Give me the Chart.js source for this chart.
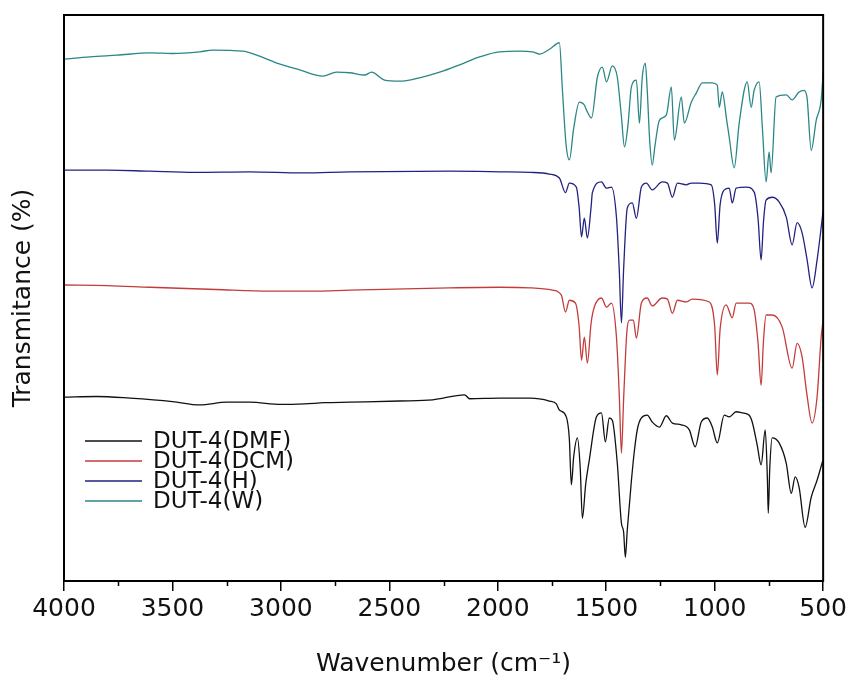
<!DOCTYPE html>
<html>
<head>
<meta charset="utf-8">
<script src="https://cdn.jsdelivr.net/npm/chart.js@4.4.1/dist/chart.umd.min.js"></script>
<style>
  body { margin: 0; background: #fff; }
  canvas { display: block; }
</style>
</head>
<body>
<canvas id="chart-ftir" width="850" height="682"></canvas>
<script>
// spectra: wavenumber (cm-1) and transmittance (offset, a.u.)
var labelsSeries = ["DUT-4(DMF)", "DUT-4(DCM)", "DUT-4(H)", "DUT-4(W)"];
var coresSeries = ["#111111", "#c43b3b", "#22227f", "#2b8686"];

var wnDMF = [4000, 3850, 3696, 3500, 3374, 3250, 3143, 3000, 2890, 2800, 2683, 2453, 2300, 2153, 2130, 1992, 1850, 1762, 1730, 1716, 1684, 1670, 1661, 1650, 1633, 1620, 1610, 1595, 1578, 1545, 1522, 1504, 1486, 1472, 1449, 1430, 1420, 1412, 1403, 1384, 1370, 1356, 1338, 1311, 1288, 1255, 1223, 1195, 1154, 1117, 1090, 1062, 1034, 1011, 988, 956, 933, 901, 873, 841, 827, 804, 786, 767, 757, 753, 746, 735, 703, 670, 647, 629, 611, 583, 555, 528, 505, 500];
var tDMF = [32.5, 32.6, 32.3, 31.7, 31.1, 31.6, 31.6, 31.2, 31.3, 31.5, 31.6, 31.8, 32.0, 32.9, 32.2, 32.3, 32.3, 31.8, 31.3, 30.2, 29.0, 25.0, 17.0, 22.0, 25.3, 20.0, 11.1, 17.0, 21.4, 29.0, 29.7, 24.6, 28.8, 28.4, 20.8, 10.2, 8.7, 4.2, 9.0, 17.7, 23.1, 26.9, 28.8, 29.3, 28.1, 27.2, 29.2, 27.9, 27.6, 26.7, 23.7, 28.1, 28.8, 27.2, 24.4, 29.3, 29.0, 29.9, 29.7, 29.3, 28.1, 24.0, 20.5, 26.7, 18.0, 12.0, 20.0, 25.3, 24.4, 20.8, 15.5, 18.4, 16.6, 9.5, 14.8, 17.8, 20.8, 21.4];

var wnDCM = [4000, 3800, 3604, 3300, 3051, 2850, 2683, 2222, 1992, 1850, 1748, 1707, 1688, 1670, 1642, 1625, 1614, 1601, 1587, 1570, 1555, 1522, 1499, 1476, 1453, 1440, 1430, 1420, 1405, 1393, 1375, 1361, 1338, 1311, 1288, 1242, 1218, 1195, 1172, 1131, 1103, 1025, 1000, 988, 975, 947, 919, 901, 841, 818, 800, 786, 775, 763, 735, 689, 643, 620, 597, 575, 551, 528, 509, 500];
var tDCM = [52.3, 52.2, 51.9, 51.5, 51.2, 51.2, 51.4, 51.8, 51.9, 51.8, 51.4, 50.5, 47.5, 49.6, 49.1, 45.0, 39.0, 43.1, 38.5, 45.5, 48.4, 50.0, 48.4, 49.1, 43.1, 33.0, 22.6, 32.0, 44.0, 46.1, 46.1, 42.9, 49.1, 50.0, 48.6, 50.0, 49.8, 47.3, 49.6, 49.3, 49.8, 49.3, 45.0, 36.4, 44.5, 48.8, 46.5, 49.1, 49.1, 47.9, 42.0, 34.6, 42.5, 47.0, 47.0, 44.9, 37.6, 42.0, 39.6, 33.0, 27.9, 32.5, 43.1, 46.1];

var wnH = [4000, 3800, 3604, 3400, 3143, 2900, 2683, 2222, 1992, 1850, 1762, 1716, 1688, 1670, 1638, 1625, 1614, 1601, 1587, 1570, 1564, 1522, 1499, 1476, 1453, 1440, 1430, 1420, 1403, 1380, 1361, 1338, 1315, 1288, 1242, 1218, 1195, 1172, 1131, 1108, 1071, 1016, 1000, 988, 975, 956, 933, 919, 901, 855, 818, 800, 786, 775, 763, 735, 703, 670, 643, 620, 597, 575, 551, 528, 509, 500];
var tH = [72.6, 72.6, 72.4, 72.2, 72.3, 72.1, 72.3, 72.4, 72.3, 72.2, 71.9, 71.2, 68.6, 70.3, 69.6, 66.0, 60.8, 64.1, 60.6, 66.0, 68.6, 70.5, 69.4, 69.6, 64.3, 55.0, 45.6, 55.0, 65.9, 66.8, 64.1, 69.6, 70.3, 69.1, 70.5, 70.3, 67.8, 70.3, 70.0, 70.3, 70.3, 70.0, 66.5, 59.7, 66.5, 69.1, 69.4, 66.8, 69.4, 69.6, 68.7, 64.0, 56.7, 63.5, 67.3, 67.8, 67.0, 64.3, 59.4, 63.3, 61.5, 57.0, 51.8, 56.7, 62.5, 65.5];

var wnW = [4000, 3880, 3756, 3604, 3500, 3374, 3314, 3176, 3111, 3019, 2913, 2807, 2743, 2683, 2614, 2582, 2522, 2453, 2361, 2268, 2176, 2084, 1992, 1900, 1840, 1808, 1760, 1716, 1702, 1685, 1670, 1650, 1624, 1601, 1591, 1568, 1541, 1518, 1499, 1472, 1449, 1430, 1416, 1400, 1384, 1361, 1347, 1334, 1320, 1311, 1300, 1288, 1275, 1255, 1223, 1200, 1186, 1154, 1140, 1108, 1085, 1057, 1011, 988, 979, 965, 945, 933, 910, 887, 850, 832, 818, 795, 780, 763, 749, 740, 717, 670, 643, 611, 588, 574, 555, 532, 509, 500];
var tW = [92.2, 92.6, 92.9, 93.3, 93.2, 93.5, 93.8, 93.6, 92.9, 91.5, 90.3, 89.2, 89.9, 89.8, 89.4, 89.9, 88.5, 88.3, 88.9, 89.9, 91.2, 92.6, 93.5, 93.6, 93.5, 93.1, 94.0, 95.1, 86.7, 77.0, 74.4, 80.0, 84.6, 84.1, 83.2, 81.8, 89.0, 90.8, 88.2, 91.0, 89.0, 82.0, 76.7, 80.5, 87.3, 88.5, 80.9, 89.0, 91.5, 86.7, 78.0, 73.5, 77.0, 81.4, 82.3, 87.3, 77.9, 85.5, 80.9, 84.6, 86.2, 88.0, 88.0, 87.6, 83.7, 86.4, 81.5, 78.4, 73.0, 80.9, 88.2, 83.7, 86.7, 88.2, 80.0, 70.5, 75.8, 72.1, 85.5, 85.9, 85.0, 86.4, 86.7, 85.3, 76.1, 81.4, 85.0, 89.8];

var xTicks = [4000, 3500, 3000, 2500, 2000, 1500, 1000, 500];
var xMinorTicks = [3750, 3250, 2750, 2250, 1750, 1250, 750];

function pares(xs, ys) {
  var out = [];
  for (var i = 0; i < xs.length; i++) {
    out.push({ x: xs[i], y: ys[i] });
  }
  return out;
}

var wnAll = [wnDMF, wnDCM, wnH, wnW];
var tAll = [tDMF, tDCM, tH, tW];
var datasets = [];
for (var s = 0; s < labelsSeries.length; s++) {
  datasets.push({
    label: labelsSeries[s],
    data: pares(wnAll[s], tAll[s]),
    borderColor: coresSeries[s],
    backgroundColor: "transparent",
    borderWidth: 1.3,
    pointRadius: 0,
    cubicInterpolationMode: "monotone",
    fill: false,
  });
}

// box around plot, minor ticks and the legend in the lower left corner
var moldura = {
  id: "moldura",
  afterDraw: function (chart) {
    var ctx = chart.ctx;
    var a = chart.chartArea;
    var sx = chart.scales.x;
    ctx.save();
    ctx.strokeStyle = "#000";
    ctx.lineWidth = 2;
    ctx.strokeRect(a.left, a.top, a.right - a.left, a.bottom - a.top);
    ctx.lineWidth = 1.5;
    ctx.beginPath();
    for (var i = 0; i < xMinorTicks.length; i++) {
      var px = Math.round(sx.getPixelForValue(xMinorTicks[i])) + 0.5;
      ctx.moveTo(px, a.bottom);
      ctx.lineTo(px, a.bottom + 5);
    }
    ctx.stroke();

    ctx.font = "23px 'DejaVu Sans'";
    ctx.textBaseline = "middle";
    ctx.textAlign = "left";
    for (var k = 0; k < labelsSeries.length; k++) {
      var ly = a.bottom - 140 + k * 20;
      ctx.strokeStyle = coresSeries[k];
      ctx.lineWidth = 1.3;
      ctx.beginPath();
      ctx.moveTo(a.left + 21, ly);
      ctx.lineTo(a.left + 78, ly);
      ctx.stroke();
      ctx.fillStyle = "#111";
      ctx.fillText(labelsSeries[k], a.left + 89, ly + 1);
    }
    ctx.restore();
  },
};

var ctx1 = document.getElementById("chart-ftir").getContext("2d");
var chart1 = new Chart(ctx1, {
  type: "line",
  data: { datasets: datasets },
  options: {
    responsive: false,
    animation: false,
    layout: { padding: { top: 15, right: 26, left: 0, bottom: 0 } },
    plugins: {
      legend: { display: false },
      tooltip: { enabled: false },
    },
    scales: {
      x: {
        type: "linear",
        reverse: true,
        min: 500,
        max: 4000,
        afterFit: function (scale) { scale.height = 101; },
        afterBuildTicks: function (scale) {
          scale.ticks = xTicks.map(function (v) { return { value: v }; });
        },
        grid: {
          display: true,
          drawOnChartArea: false,
          drawTicks: true,
          tickLength: 10,
          color: "#000",
          lineWidth: 1.5,
        },
        border: { display: true, color: "#000", width: 2 },
        ticks: {
          color: "#111",
          padding: 3,
          maxRotation: 0,
          autoSkip: false,
          font: { size: 25, family: "DejaVu Sans" },
          callback: function (v) { return String(v); },
        },
        title: {
          display: true,
          text: "Wavenumber (cm\u207B\u00B9)",
          color: "#111",
          font: { size: 25, family: "DejaVu Sans" },
          padding: { top: 0, bottom: 3 },
        },
      },
      y: {
        min: 0,
        max: 100,
        afterFit: function (scale) { scale.width = 64; },
        grid: { display: false },
        border: { display: true, color: "#000", width: 2 },
        ticks: { display: false },
        title: {
          display: true,
          text: "Transmitance (%)",
          color: "#111",
          font: { size: 25, family: "DejaVu Sans" },
          padding: { top: 8, bottom: 8 },
        },
      },
    },
  },
  plugins: [moldura],
});
</script>
</body>
</html>
